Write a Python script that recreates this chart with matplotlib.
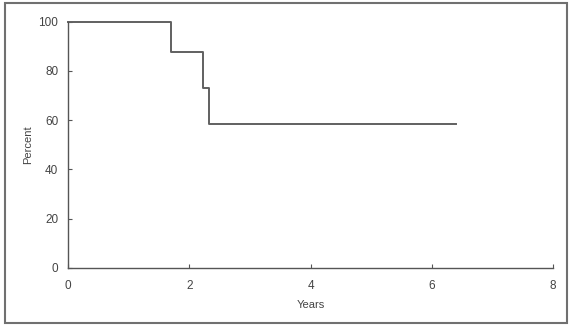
import matplotlib.pyplot as plt
from matplotlib.patches import Rectangle

# Kaplan-Meier style survival steps
times = [0, 1.7, 2.23, 2.33, 6.4]
percent = [100, 87.5, 72.9, 58.3, 58.3]

x_ticks = [0, 2, 4, 6, 8]
y_ticks = [0, 20, 40, 60, 80, 100]

plt.rcParams['font.family'] = ['Liberation Sans', 'DejaVu Sans']

fig = plt.figure(figsize=(5.72, 3.26), dpi=100)
ax = fig.add_axes([0.119, 0.178, 0.848, 0.756])

ax.step(times, percent, where="post", color="#606060", lw=1.4, clip_on=False)

ax.set_xlim(0, 8)
ax.set_ylim(0, 100)
ax.set_xticks(x_ticks)
ax.set_yticks(y_ticks)
ax.spines["top"].set_visible(False)
ax.spines["right"].set_visible(False)
for s in ("left", "bottom"):
	ax.spines[s].set_color("#555555")
	ax.spines[s].set_linewidth(1.0)
ax.tick_params(direction="in", length=3, width=0.8, color="#555555",
	labelsize=8.5, labelcolor="#444444", pad=7)
ax.tick_params(axis="x", pad=8.5)

ax.set_xlabel("Years", fontsize=8, color="#444444", labelpad=6)
ax.set_ylabel("Percent", fontsize=8, color="#444444", labelpad=4)

# outer border around the whole figure
fig.patches.append(Rectangle((5 / 572, 3 / 326), 562 / 572, 320 / 326,
	transform=fig.transFigure, fill=False, edgecolor="#707070", lw=1.5))

fig.savefig("out.png", dpi=100)
